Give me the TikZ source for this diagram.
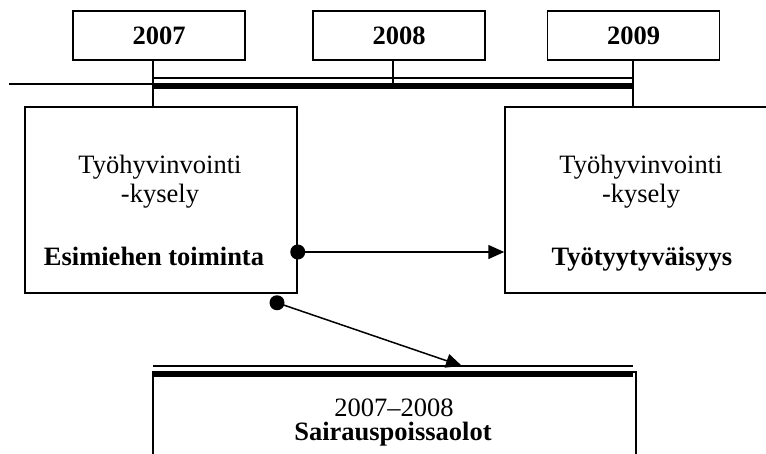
\documentclass[tikz,border=0pt]{standalone}
\usepackage{fontspec}
\setmainfont{Liberation Serif}
\usetikzlibrary{arrows.meta}
\begin{document}
\begin{tikzpicture}[x=1pt,y=-1pt, line width=1.5pt,
  yearbox/.style={draw, minimum width=172pt, minimum height=49pt, inner sep=0pt, font=\fontsize{26.5}{30}\selectfont\bfseries},
  bigbox/.style={draw, minimum width=272pt, minimum height=186pt, inner sep=0pt},
  txt/.style={anchor=base, inner sep=0pt, font=\fontsize{26.5}{30}\selectfont},
  btxt/.style={anchor=base, inner sep=0pt, font=\fontsize{26.5}{30}\selectfont\bfseries},
  conn/.style={line width=1.5pt, -{Triangle[length=16pt,width=14pt]}},
  dot/.style={circle, fill, minimum size=15pt, inner sep=0pt}
]
\useasboundingbox (0,0) rectangle (766,453);
\clip (0,0) rectangle (766,453);
% year boxes
\node[yearbox] (y7) at (159,35.5) {2007};
\node[yearbox] (y8) at (399,35.5) {2008};
\node[yearbox] (y9) at (633.5,35.5) {2009};
% big boxes
\node[bigbox] (L) at (161,200) {};
\node[bigbox] (R) at (641,200) {};
\node[draw, minimum width=483pt, minimum height=150pt, inner sep=0pt] (B) at (394.5,447) {};
% timeline
\coordinate (tA) at (153,86);
\coordinate (tB) at (633,86);
\coordinate (uA) at (153,78);
\coordinate (uB) at (633,78);
\coordinate (tail) at (9,84);
\coordinate (tailEnd) at (153,84);
\coordinate (m8) at (393,83);
\draw[line width=6.5pt] (tA) -- (tB);
\draw (uA) -- (uB);
\draw (tail) -- (tailEnd);
\draw (y7.south -| tA) -- (L.north -| tA);
\draw (y8.south -| m8) -- (m8);
\draw (y9.south -| tB) -- (R.north -| tB);
% bottom double line
\coordinate (bA) at (153,374);
\coordinate (bB) at (633,374);
\coordinate (cA) at (153,366);
\coordinate (cB) at (633,366);
\draw[line width=6pt] (bA) -- (bB);
\draw (cA) -- (cB);
% texts
\node[txt] (l1) at (160,173) {Työhyvinvointi};
\node[txt] (l2) at (160,202) {-kysely};
\node[btxt] (l3) at (154,265) {Esimiehen toiminta};
\node[txt] (r1) at (641,173) {Työhyvinvointi};
\node[txt] (r2) at (641,202) {-kysely};
\node[btxt] (r3) at (642,265) {Työtyytyväisyys};
\node[txt] (b1) at (394,416) {2007–2008};
\node[btxt] (b2) at (393,440) {Sairauspoissaolot};
% connectors
\node[dot] (d1) at ([yshift=-52pt]L.east) {};
\node[dot] (d2) at ([shift={(116pt,-9pt)}]L.south) {};
\coordinate (e1) at ([yshift=-52pt]R.west);
\coordinate (e2) at (462,366);
\draw[conn] (d1.center) -- (e1);
\draw[conn] (d2.center) -- (e2);
\end{tikzpicture}
\end{document}
